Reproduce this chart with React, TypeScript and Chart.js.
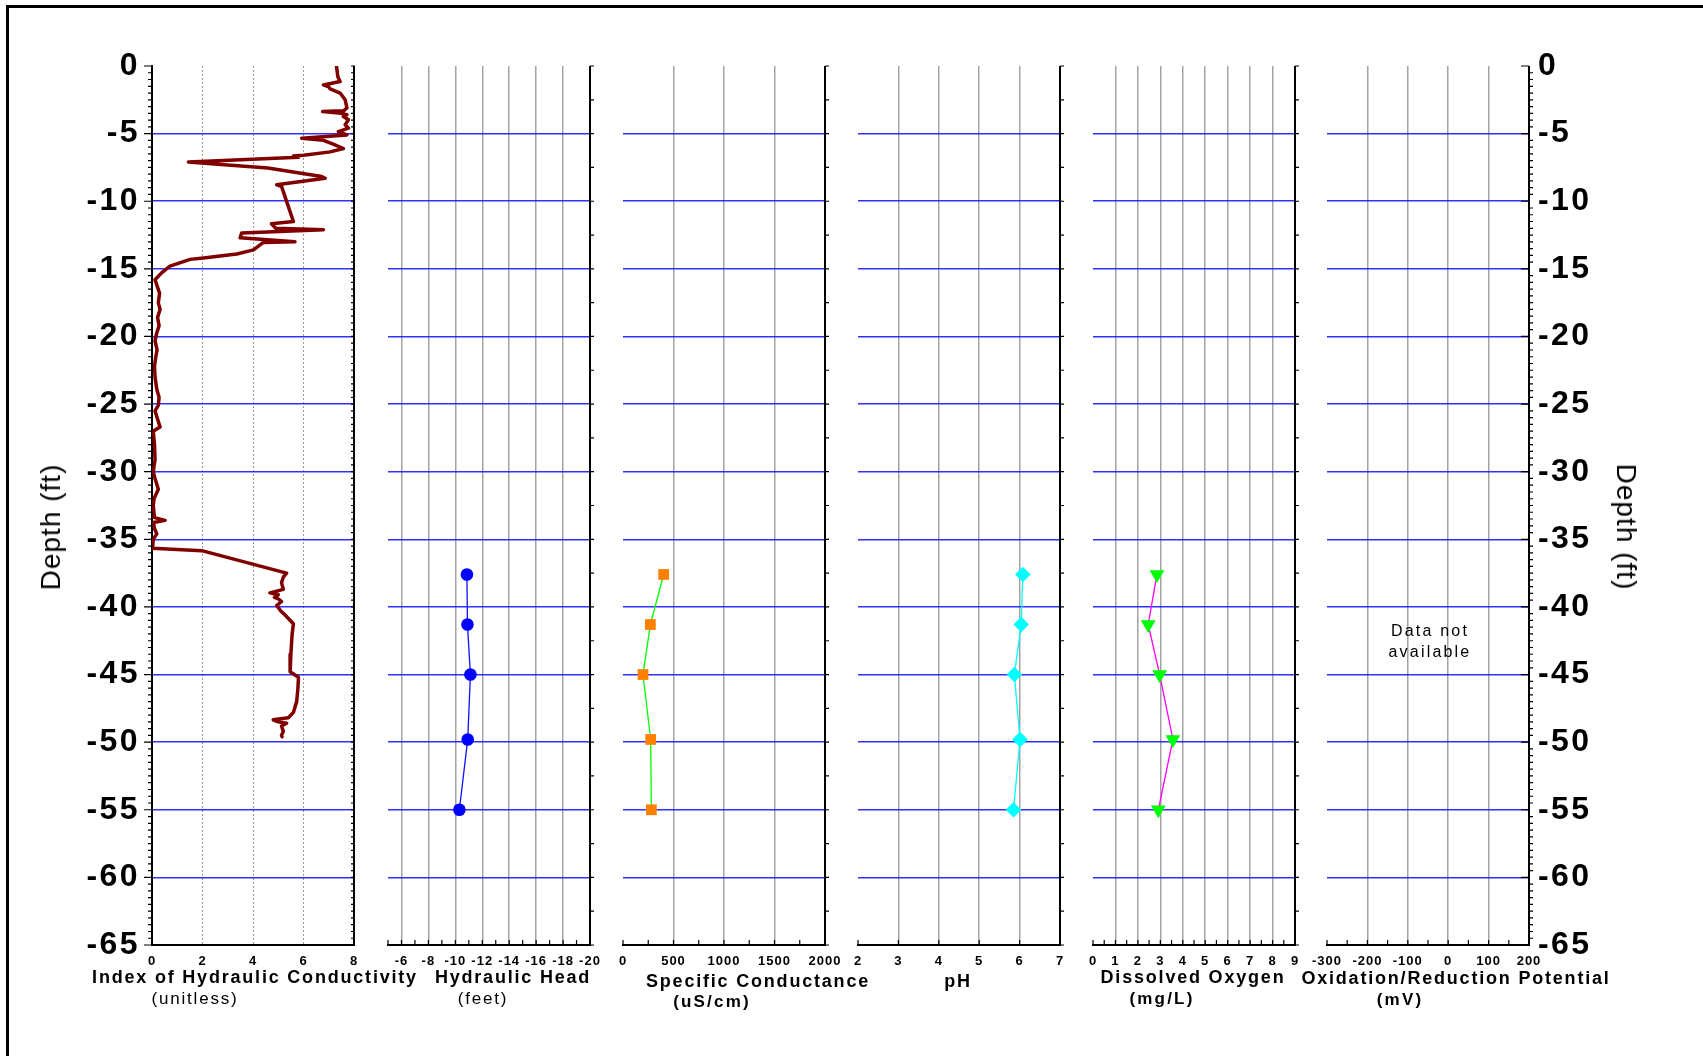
import React, { useEffect, useRef } from "react";
import { Chart, registerables } from "chart.js";

Chart.register(...registerables);

const FONT = '"Liberation Sans", Arial, Helvetica, sans-serif';
const W = 1703;
const H = 1056;
const PLOT_TOP = 66;
const PLOT_BOTTOM = 945;
const X_AXIS_H = 45;
const Y_AXIS_W = 140;

// ---------------- data ----------------
const depthRange = [-65, 0];
const depthLabelStep = 5;

// Index of Hydraulic Conductivity log (depth ft, index)
const ihcDepth = [
  -0.05, -0.8, -1.15, -1.4, -1.55, -1.7, -2.0, -2.5, -3.1, -3.3, -3.37, -3.5, -3.6, -3.74, -3.98,
  -4.35, -4.6, -4.85, -5.1, -5.34, -5.5, -5.8, -6.1, -6.35, -6.6, -6.65, -6.75, -7.1, -7.3, -7.55,
  -8.17, -8.3, -8.78, -8.9, -11.5, -11.67, -12.0, -12.1, -12.35, -12.7, -13.0, -13.05, -13.6, -13.9,
  -14.2, -14.3, -14.8, -15.3, -15.8, -16.2, -16.8, -17.5, -18.0, -18.6, -19.2, -19.8, -20.3, -21.0,
  -21.5, -22.2, -23.0, -23.9, -24.5, -25.1, -25.5, -26.0, -26.7, -27.0, -28.0, -29.1, -30.0, -30.5,
  -31.3, -32.0, -32.5, -33.4, -33.6, -33.75, -34.2, -34.6, -35.0, -35.67, -35.84, -37.5, -37.8, -38.2,
  -38.7, -38.96, -39.1, -39.3, -39.4, -39.6, -39.9, -40.3, -40.6, -41.25, -42.0, -42.6, -43.5, -44.2,
  -44.8, -45.2, -46.0, -47.0, -47.8, -48.2, -48.35, -48.5, -48.6, -48.8, -49.2, -49.5, -49.6,
];
const ihcIndex = [
  7.31, 7.36, 7.45, 6.79, 7.0, 7.06, 7.45, 7.65, 7.72, 7.6, 6.76, 7.5, 7.72, 7.58, 7.78,
  7.65, 7.78, 7.38, 7.72, 5.93, 6.79, 7.2, 7.58, 7.06, 6.0, 5.6, 5.8, 1.44, 2.87, 4.59,
  6.72, 6.86, 4.94, 5.13, 5.6, 4.73, 4.9, 6.79, 3.55, 3.49, 5.66, 4.41, 4.02, 3.36,
  2.04, 1.51, 0.71, 0.38, 0.12, 0.19, 0.3, 0.25, 0.32, 0.22, 0.28, 0.18, 0.12, 0.2,
  0.15, 0.1, 0.12, 0.19, 0.28, 0.25, 0.12, 0.2, 0.32, 0.05, 0.1, 0.12, 0.05, 0.12,
  0.25, 0.08, 0.05, 0.1, 0.52, 0.05, 0.1, 0.19, 0.05, 0.02, 1.97, 5.33, 5.2, 5.13,
  5.2, 4.67, 5.0, 4.85, 5.0, 5.13, 4.94, 5.1, 5.27, 5.6, 5.55, 5.53, 5.5, 5.47,
  5.47, 5.8, 5.78, 5.73, 5.6, 5.4, 4.8, 5.0, 5.33, 5.13, 5.2, 5.13, 5.15,
];

// discrete samples
const sampleDepth = [-37.6, -41.3, -45.0, -49.8, -55.0];
const hydraulicHead = [-10.86, -10.9, -11.12, -10.92, -10.3];
const specificConductance = [403, 271, 198, 274, 281];
const phValues = [6.08, 6.04, 5.87, 6.01, 5.85];
const dissolvedOxygen = [2.85, 2.46, 2.97, 3.56, 2.91];

// x-axis ranges
const ihcRange = [0, 8];
const headRange = [-20, -5];
const condRange = [0, 2000];
const phRange = [2, 7];
const doRange = [0, 9];
const orpRange = [-300, 200];

const BLUE = "rgba(25,25,255,0.9)";
const GREY = "#a3a3a3";

const pts = (xs: number[]) => sampleDepth.map((d, i) => ({ x: xs[i], y: d }));

type PanelSpec = {
  left: number;
  right: number;
  range: number[];
  step: number;
  reverse?: boolean;
  labelEvery: number;
  gridEvery: number;
  minorTick: number;
  dotted?: boolean;
  axis: "left" | "right" | "none";
  sep: "fine" | "coarse" | "axis";
  datasets: any[];
};

const PANELS: PanelSpec[] = [
  {
    left: 152, right: 354, range: ihcRange, step: 2, labelEvery: 2, gridEvery: 2, minorTick: 0,
    dotted: true, axis: "left", sep: "fine",
    datasets: [
      {
        data: ihcDepth.map((d, i) => ({ x: ihcIndex[i], y: d })),
        showLine: true, borderColor: "#800000", borderWidth: 3.5, pointRadius: 0,
        borderJoinStyle: "round", borderCapStyle: "round",
      },
    ],
  },
  {
    left: 388, right: 590, range: headRange, step: 1, reverse: true, labelEvery: 2, gridEvery: 2, minorTick: 1,
    axis: "none", sep: "coarse",
    datasets: [
      {
        data: pts(hydraulicHead), showLine: true, borderColor: "#1010ff", borderWidth: 1.3,
        pointStyle: "circle", pointRadius: 6.3, pointBackgroundColor: "#0000ff", pointBorderColor: "#0000ff", pointBorderWidth: 0,
      },
    ],
  },
  {
    left: 623, right: 825, range: condRange, step: 250, labelEvery: 500, gridEvery: 500, minorTick: 250,
    axis: "none", sep: "coarse",
    datasets: [
      {
        data: pts(specificConductance), showLine: true, borderColor: "#00ff00", borderWidth: 1.3,
        pointStyle: "rect", pointRadius: 7.6, pointBackgroundColor: "#ff8000", pointBorderColor: "#ff8000", pointBorderWidth: 0,
      },
    ],
  },
  {
    left: 858, right: 1060, range: phRange, step: 1, labelEvery: 1, gridEvery: 1, minorTick: 1,
    axis: "none", sep: "coarse",
    datasets: [
      {
        data: pts(phValues), showLine: true, borderColor: "#00ffff", borderWidth: 1.3,
        pointStyle: "rectRot", pointRadius: 7.8, pointBackgroundColor: "#00ffff", pointBorderColor: "#00ffff", pointBorderWidth: 0,
      },
    ],
  },
  {
    left: 1093, right: 1295, range: doRange, step: 0.5, labelEvery: 1, gridEvery: 1, minorTick: 0.5,
    axis: "none", sep: "coarse",
    datasets: [
      {
        data: pts(dissolvedOxygen), showLine: true, borderColor: "#ff00ff", borderWidth: 1.3,
        pointStyle: "triangle", pointRotation: 180, pointRadius: 8.6, pointBackgroundColor: "#00ff00", pointBorderColor: "#00ff00", pointBorderWidth: 0,
      },
    ],
  },
  {
    left: 1327, right: 1529, range: orpRange, step: 50, labelEvery: 100, gridEvery: 100, minorTick: 50,
    axis: "right", sep: "axis",
    datasets: [],
  },
];

const isMult = (v: number, m: number) => Math.abs(v / m - Math.round(v / m)) < 1e-6;

function buildChart(canvas: HTMLCanvasElement, p: PanelSpec, idx: number) {
  const [xMin, xMax] = p.range;
  const onGrid = (v: number) => isMult(v, p.gridEvery) && v > xMin + 1e-9 && v < xMax - 1e-9;
  const yW = p.axis === "none" ? 0 : Y_AXIS_W;

  const decor = {
    id: "decor" + idx,
    beforeDraw(chart: any) {
      chart.ctx.letterSpacing = "1px";
    },
    afterDatasetsDraw(chart: any) {
      chart.ctx.letterSpacing = "2.4px";
    },
    afterDraw(chart: any) {
      const ctx = chart.ctx;
      const { left, right, top, bottom } = chart.chartArea;
      const xs = chart.scales.x;
      const ys = chart.scales.y;
      ctx.save();
      ctx.letterSpacing = "0px";
      ctx.strokeStyle = "#000";
      ctx.lineWidth = 1.2;
      ctx.beginPath();
      if (p.minorTick > 0) {
        const n = Math.round((xMax - xMin) / p.minorTick);
        for (let i = 0; i <= n; i++) {
          const px = xs.getPixelForValue(xMin + i * p.minorTick);
          ctx.moveTo(px, bottom);
          ctx.lineTo(px, bottom - 5);
        }
      }
      const nHalf = Math.round((depthRange[1] - depthRange[0]) / 0.5);
      for (let i = 0; i <= nHalf; i++) {
        const v = depthRange[1] - i * 0.5;
        const py = ys.getPixelForValue(v);
        const major = i % 10 === 0;
        if (p.axis === "left") {
          if (major) {
            ctx.moveTo(left - 8, py);
            ctx.lineTo(left, py);
          } else {
            ctx.moveTo(left - 4, py);
            ctx.lineTo(left + 1, py);
          }
        }
        if (p.sep === "fine") {
          ctx.moveTo(right - 3, py);
          ctx.lineTo(right + 1, py);
        } else if (p.sep === "coarse") {
          if (i % 5 === 0) {
            ctx.moveTo(right, py);
            ctx.lineTo(right + 4, py);
          }
        } else {
          if (major) {
            ctx.moveTo(right - 8, py);
            ctx.lineTo(right, py);
          } else {
            ctx.moveTo(right - 1, py);
            ctx.lineTo(right + 4, py);
          }
        }
      }
      ctx.stroke();
      ctx.lineWidth = 2;
      ctx.beginPath();
      ctx.moveTo(right, top);
      ctx.lineTo(right, bottom + 1);
      ctx.stroke();
      ctx.restore();
    },
  };

  return new Chart(canvas, {
    type: "scatter",
    data: { datasets: p.datasets },
    options: {
      responsive: false,
      animation: false,
      devicePixelRatio: 1,
      events: [],
      layout: {
        autoPadding: false,
        padding: {
          left: p.left - (p.axis === "left" ? yW : 0),
          right: W - p.right - (p.axis === "right" ? yW : 0),
          top: PLOT_TOP,
          bottom: H - PLOT_BOTTOM - X_AXIS_H,
        },
      },
      plugins: { legend: { display: false }, tooltip: { enabled: false }, title: { display: false } },
      scales: {
        x: {
          type: "linear",
          position: "bottom",
          min: xMin,
          max: xMax,
          reverse: !!p.reverse,
          afterFit: (s: any) => {
            s.height = X_AXIS_H;
            s.paddingLeft = 0;
            s.paddingRight = 0;
          },
          ticks: {
            stepSize: p.step,
            autoSkip: false,
            maxRotation: 0,
            minRotation: 0,
            padding: 9,
            color: "#000",
            font: { family: FONT, size: 13, weight: "bold" },
            callback: (v: any) => (isMult(Number(v), p.labelEvery) ? String(v) : ""),
          },
          grid: {
            drawTicks: false,
            color: (c: any) => (c.tick && onGrid(c.tick.value) ? (p.dotted ? "#9a9a9a" : GREY) : "rgba(0,0,0,0)"),
            lineWidth: p.dotted ? 1 : 1.5,
          },
          border: { display: true, color: "#000", width: 2, dash: p.dotted ? [2, 2] : [] },
        },
        y: {
          type: "linear",
          position: p.axis === "right" ? "right" : "left",
          min: depthRange[0],
          max: depthRange[1],
          afterFit: (s: any) => {
            s.width = yW;
          },
          ticks: {
            display: p.axis !== "none",
            stepSize: depthLabelStep,
            autoSkip: false,
            padding: p.axis === "right" ? 9 : 12,
            z: 1,
            color: "#000",
            font: { family: FONT, size: 32, weight: "bold" },
            callback: (v: any) => String(v),
          },
          grid: {
            drawTicks: false,
            color: (c: any) =>
              c.tick && c.tick.value > depthRange[0] + 1e-9 && c.tick.value < depthRange[1] - 1e-9 ? BLUE : "rgba(0,0,0,0)",
            lineWidth: 1.5,
          },
          border: { display: p.axis === "left", color: "#000", width: 2 },
        },
      },
    } as any,
    plugins: [decor as any],
  });
}

type TxtProps = { x: number; top: number; size: number; bold?: boolean; spacing?: number; children: React.ReactNode };
function Txt({ x, top, size, bold, spacing, children }: TxtProps) {
  return (
    <div
      style={{
        position: "absolute",
        left: x,
        top,
        transform: "translateX(-50%)",
        fontFamily: FONT,
        fontSize: size,
        fontWeight: bold ? 700 : 400,
        letterSpacing: spacing ?? 0,
        lineHeight: 1,
        whiteSpace: "nowrap",
        color: "#000",
      }}
    >
      {children}
    </div>
  );
}

export default function App() {
  const refs = useRef<(HTMLCanvasElement | null)[]>([]);
  useEffect(() => {
    const charts = PANELS.map((p, i) => buildChart(refs.current[i] as HTMLCanvasElement, p, i));
    return () => charts.forEach((c) => c.destroy());
  }, []);

  return (
    <div
      style={{
        position: "absolute",
        left: 0,
        top: 0,
        width: W,
        height: H,
        overflow: "hidden",
        background: "#fff",
        fontFamily: FONT,
      }}
    >
      <div
        style={{
          position: "absolute",
          left: 6,
          top: 5,
          width: W + 200,
          height: H + 200,
          border: "3px solid #000",
        }}
      />
      {PANELS.map((_, i) => (
        <canvas
          key={i}
          ref={(el) => {
            refs.current[i] = el;
          }}
          width={W}
          height={H}
          style={{ position: "absolute", left: 0, top: 0, width: W, height: H }}
        />
      ))}

      <Txt x={255} top={968} size={18} bold spacing={1.8}>Index of Hydraulic Conductivity</Txt>
      <Txt x={195} top={990} size={17} spacing={1.8}>(unitless)</Txt>
      <Txt x={513} top={968} size={18} bold spacing={1.8}>Hydraulic Head</Txt>
      <Txt x={483} top={990} size={17} spacing={1.8}>(feet)</Txt>
      <Txt x={758} top={972} size={18} bold spacing={1.8}>Specific Conductance</Txt>
      <Txt x={712} top={993} size={17} bold spacing={2.2}>(uS/cm)</Txt>
      <Txt x={958} top={972} size={18} bold spacing={1.8}>pH</Txt>
      <Txt x={1193} top={968} size={18} bold spacing={1.8}>Dissolved Oxygen</Txt>
      <Txt x={1162} top={990} size={17} bold spacing={2.2}>(mg/L)</Txt>
      <Txt x={1456} top={969} size={18} bold spacing={1.8}>Oxidation/Reduction Potential</Txt>
      <Txt x={1400} top={991} size={17} bold spacing={2.2}>(mV)</Txt>

      <div
        style={{
          position: "absolute",
          left: 1330,
          width: 200,
          top: 620,
          textAlign: "center",
          fontFamily: FONT,
          fontSize: 16,
          letterSpacing: 2.2,
          lineHeight: "21px",
          color: "#000",
        }}
      >
        Data not
        <br />
        available
      </div>

      <div
        style={{
          position: "absolute",
          left: 51,
          top: 527,
          transform: "translate(-50%, -50%) rotate(-90deg)",
          fontFamily: FONT,
          fontSize: 28,
          letterSpacing: 1,
          lineHeight: 1,
          whiteSpace: "nowrap",
          color: "#000",
        }}
      >
        Depth (ft)
      </div>
      <div
        style={{
          position: "absolute",
          left: 1626,
          top: 527,
          transform: "translate(-50%, -50%) rotate(90deg)",
          fontFamily: FONT,
          fontSize: 28,
          letterSpacing: 1,
          lineHeight: 1,
          whiteSpace: "nowrap",
          color: "#000",
        }}
      >
        Depth (ft)
      </div>
    </div>
  );
}
